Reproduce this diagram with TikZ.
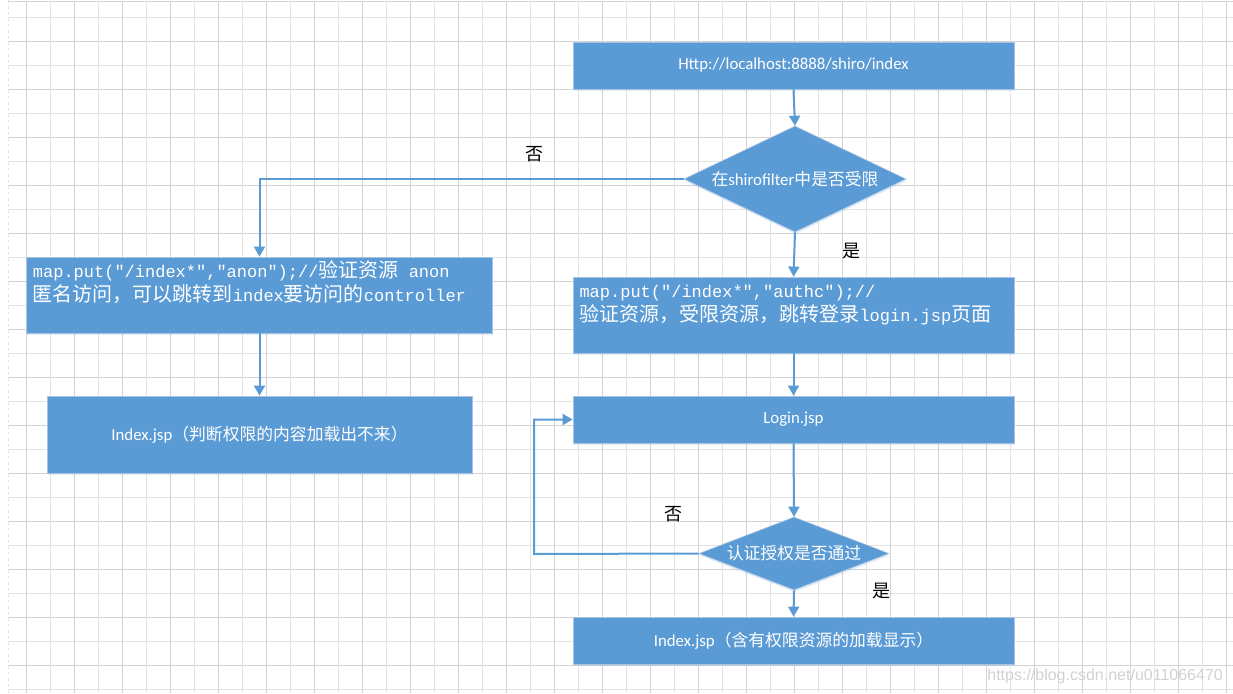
\documentclass[tikz,border=0pt]{standalone}
\usepackage{fontspec}
\setmainfont{Carlito}
\newfontfamily\cjk{Noto Sans CJK SC}
\newfontfamily\codefont{Liberation Mono}
\newfontfamily\webfont{Liberation Sans}
\usetikzlibrary{arrows.meta,shapes.geometric,shadows}

\definecolor{boxblue}{HTML}{5B9BD5}
\definecolor{boxedge}{HTML}{A9C4E2}
\definecolor{gridA}{HTML}{D3D3D3}
\definecolor{gridB}{HTML}{E4E4E4}

% CJK run inside ordinary box text
\newcommand\zh[1]{{\cjk #1}}
% code lines: half-width Latin, full-width CJK
\newcommand\cd[1]{{\codefont\fontsize{17}{20}\selectfont #1}}
\newcommand\cz[1]{{\cjk\fontsize{20}{24}\selectfont #1}}

\tikzset{
  flowbox/.style={rectangle, fill=boxblue, draw=boxedge, line width=0.8pt,
    text=white, inner sep=0pt, font=\fontsize{16.8}{20}\selectfont,
    drop shadow={shadow xshift=0.5pt, shadow yshift=-2pt, fill=boxblue, opacity=0.18}},
  decision/.style={diamond, fill=boxblue, draw=boxedge, line width=0.6pt,
    text=white, inner sep=0pt, font=\fontsize{16.8}{20}\selectfont,
    drop shadow={shadow xshift=0.5pt, shadow yshift=-2pt, fill=boxblue, opacity=0.18}},
  codeline/.style={anchor=base west, inner sep=0pt, text=white},
  flow/.style={draw=boxblue, line width=2pt, -{Triangle[length=10pt,width=11pt]}},
  answer/.style={font=\cjk\fontsize{18}{20}\selectfont, text=black, inner sep=0pt},
}

\begin{document}
\begin{tikzpicture}[x=1pt, y=-1pt]
\useasboundingbox (0,0) rectangle (1233,693);
\fill[white] (0,0) rectangle (1233,693);

% background grid
\foreach \k in {0,...,28} {
  \pgfmathsetmacro\gy{17.3+24*\k}
  \pgfmathtruncatemacro\odd{mod(\k,2)}
  \ifnum\odd=1
    \draw[gridA, line width=0.9pt] (8,\gy) -- (1233,\gy);
  \else
    \draw[gridB, line width=0.9pt] (8,\gy) -- (1233,\gy);
  \fi
}
\draw[gridA, line width=0.9pt] (8,1.3) -- (1233,1.3);
\foreach \k in {0,...,50} {
  \pgfmathsetmacro\gx{26.7+24*\k}
  \pgfmathtruncatemacro\odd{mod(\k,2)}
  \ifnum\odd=0
    \draw[gridA, line width=0.9pt] (\gx,1.3) -- (\gx,693);
  \else
    \draw[gridB, line width=0.9pt] (\gx,1.3) -- (\gx,693);
  \fi
}
\draw[gridB, line width=0.9pt, dashed] (8,0) -- (8,693);

% boxes and decisions
\node[flowbox, minimum width=441pt, minimum height=47pt] (url) at (793.5,65.5)
  {Http://localhost:8888/shiro/index};
\node[decision, aspect=2.1, minimum width=222pt, minimum height=106pt] (limit) at (795,179)
  {\zh{在}shirofilter\zh{中是否受限}};
\node[flowbox, minimum width=466pt, minimum height=76pt] (anon) at (259.5,295) {};
\node[flowbox, minimum width=425pt, minimum height=77pt] (open) at (259.5,434.5)
  {Index.jsp\zh{（判断权限的内容加载出不来）}};
\node[flowbox, minimum width=441pt, minimum height=76pt] (authc) at (793.5,315) {};
\node[flowbox, minimum width=441pt, minimum height=47pt] (login) at (793.5,419.5) {Login.jsp};
\node[decision, aspect=2.6, minimum width=190pt, minimum height=73pt] (auth) at (794,553.5)
  {\zh{认证授权是否通过}};
\node[flowbox, minimum width=441pt, minimum height=47pt] (full) at (793.5,640.5)
  {Index.jsp\zh{（含有权限资源的加载显示）}};

% code text inside the two rule boxes
\node[codeline] (anonA) at (32.7,277)
  {\cd{map.put("/index*","anon");//}\cz{验证资源}\cd{\ anon}};
\node[codeline] (anonB) at (32.7,301)
  {\cz{匿名访问，可以跳转到}\cd{index}\cz{要访问的}\cd{controller}};
\node[codeline] (authcA) at (579.3,297)
  {\cd{map.put("/index*","authc");//}};
\node[codeline] (authcB) at (579.3,321)
  {\cz{验证资源，受限资源，跳转登录}\cd{login.jsp}\cz{页面}};

% answers
\node[answer] (noA) at (534,154) {否};
\node[answer] (yesA) at (851,251) {是};
\node[answer] (noB) at (673,514) {否};
\node[answer] (yesB) at (881,591) {是};

% connectors
\coordinate (loop) at (534,554);
\draw[flow] (url.south) -- (limit.north);
\draw[flow] (limit.west) -| (anon.north);
\draw[flow] (limit.south) -- (authc.north);
\draw[flow] (anon.south) -- (open.north);
\draw[flow] (authc.south) -- (login.north);
\draw[flow] (login.south) -- (auth.north);
\draw[flow] (auth.west) -- (loop) |- (login.west);
\draw[flow] (auth.south) -- (full.north);

% site mark
\node[anchor=base east, inner sep=0pt, text=gray!35,
  font=\webfont\fontsize{16}{18}\selectfont] (site) at (1223,680)
  {https://blog.csdn.net/u011066470};
\end{tikzpicture}
\end{document}
